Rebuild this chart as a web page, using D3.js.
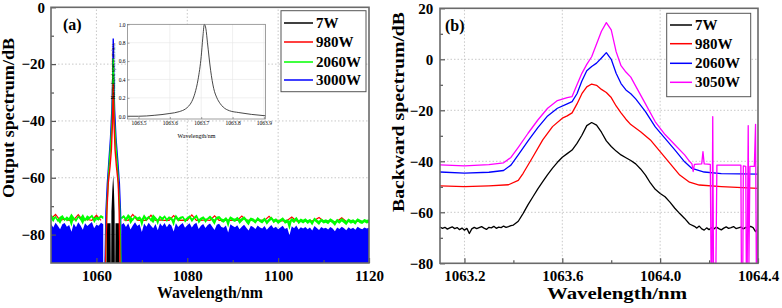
<!DOCTYPE html>
<html><head><meta charset="utf-8">
<script src="https://cdn.jsdelivr.net/npm/d3@7/dist/d3.min.js"></script>
<style>
body{margin:0;background:#fff}
svg{display:block}
text{font-family:"Liberation Serif","Times New Roman",serif;font-weight:bold;fill:#000}
</style>
</head><body>
<svg id="c" width="782" height="308"></svg>
<script>
// ---------------- Panel (a) data ----------------
const seriesA = ["7W", "980W", "2060W", "3000W"];
const colorsA = ["#000000", "#ff0000", "#00ff00", "#0000ff"];
const xTicksA = [1060, 1080, 1100, 1120];
const yTicksA = [-80, -60, -40, -20, 0];

// noise floor, 0.5 nm step: left part 1050..1061.5, right part 1065.5..1120
const floorStartL = 1050, floorStartR = 1065.5, floorStep = 0.5;
const greenTopL = [-73.2,-74.5,-73.8,-75.1,-74.0,-73.5,-74.8,-73.9,-74.6,-73.1,-74.2,-75.0,-73.7,-74.4,-73.3,-74.9,-73.6,-74.1,-73.4,-74.7,-73.9,-74.3,-73.5,-74.0];
const blueTopL = [-76.2,-77.5,-75.8,-76.9,-78.1,-76.4,-75.9,-77.2,-76.6,-79.0,-76.1,-77.4,-75.7,-76.8,-78.3,-76.0,-77.0,-76.3,-75.6,-77.8,-76.5,-76.9,-75.8,-76.4];
const greenTopR = [-74.1,-73.5,-74.6,-73.2,-74.0,-74.8,-73.6,-74.3,-73.9,-75.0,
 -73.4,-74.5,-73.8,-74.9,-73.3,-74.2,-75.1,-73.7,-74.4,-73.6,
 -74.8,-73.9,-74.3,-75.2,-73.5,-74.6,-74.0,-73.8,-74.9,-74.2,
 -73.6,-74.7,-74.1,-73.4,-75.0,-74.3,-73.9,-74.8,-74.4,-73.7,
 -74.5,-75.1,-74.0,-73.8,-74.6,-74.9,-74.2,-75.3,-73.9,-74.4,
 -74.7,-74.1,-75.0,-74.5,-73.9,-74.8,-75.2,-74.3,-74.6,-75.4,
 -74.2,-74.9,-75.1,-74.4,-75.5,-74.7,-74.0,-75.0,-74.6,-75.3,
 -74.8,-74.3,-75.2,-74.9,-75.6,-74.5,-75.0,-74.2,-75.4,-74.7,
 -75.1,-74.6,-75.3,-74.8,-75.7,-74.4,-75.0,-75.5,-74.7,-75.2,
 -74.9,-75.4,-74.6,-75.1,-75.8,-74.8,-75.3,-74.5,-75.0,-75.6,
 -74.7,-75.2,-74.9,-75.5,-74.6,-75.0,-75.4,-74.8,-75.1,-74.9];
const blueTopR = [-76.5,-75.9,-77.3,-76.0,-78.2,-76.8,-75.7,-77.0,-76.4,-79.1,
 -76.1,-77.2,-75.8,-76.9,-77.8,-76.3,-78.5,-76.0,-77.1,-75.9,
 -77.4,-76.2,-76.8,-78.9,-76.0,-77.3,-76.5,-75.9,-77.6,-76.7,
 -76.0,-77.5,-76.4,-75.8,-78.0,-76.9,-76.3,-77.7,-76.6,-76.1,
 -77.2,-78.4,-76.5,-76.2,-77.3,-77.6,-76.8,-79.3,-76.4,-77.0,
 -77.4,-76.7,-78.1,-77.2,-76.5,-77.6,-78.6,-76.9,-77.3,-78.0,
 -76.8,-77.5,-77.9,-77.0,-78.3,-77.4,-76.6,-77.8,-77.2,-78.1,
 -77.5,-76.9,-78.0,-77.6,-80.2,-77.1,-77.8,-76.8,-78.2,-77.4,
 -77.9,-77.3,-78.1,-77.5,-78.6,-77.0,-77.7,-78.4,-77.3,-77.9,
 -77.6,-78.2,-77.3,-77.9,-78.8,-77.5,-78.0,-77.2,-77.8,-78.5,
 -77.4,-78.0,-77.6,-78.3,-77.2,-77.8,-78.1,-77.5,-77.9,-77.6];
// red (980W) floor specks, 1 nm step
const redFloorL = [-74.5,-72.9,-75.0,-74.6,-75.0,-74.8,-73.0,-75.0,-74.7,-75.0,-73.2,-75.0];
const redFloorR = [-74.8,-75.0,-72.9,-75.0,-74.9,-75.0,-73.2,-75.0,-74.8,-75.0,
 -75.0,-73.3,-75.0,-74.9,-75.0,-73.1,-75.0,-75.0,-74.8,-75.0,
 -73.4,-75.0,-75.0,-74.9,-75.0,-75.0,-73.5,-75.0,-75.0,-75.0,
 -75.0,-75.0,-73.6,-75.1,-75.0,-75.2,-75.0,-73.8,-75.2,-75.1,
 -75.2,-75.3,-75.0,-74.0,-75.3,-75.2,-75.4,-75.3,-74.1,-75.4,
 -75.3,-75.4,-75.3,-75.4,-75.3];
const redFloorStartR = 1066;

// central peak profiles [wavelength nm, dB]
const peak7W = [[1062.2,-90],[1062.3,-76],[1063.1,-76],[1063.15,-90],[1063.25,-90],[1063.3,-72],[1063.5,-64],[1063.7,-59],[1063.85,-64],[1064.0,-72],[1064.05,-90],[1064.15,-90],[1064.2,-76],[1065.0,-76],[1065.1,-90]];
const peak980W = [[1062.0,-90],[1062.3,-72],[1062.6,-62],[1063.0,-56],[1063.3,-50],[1063.5,-42],[1063.62,-34],[1063.7,-27],[1063.78,-34],[1063.9,-42],[1064.1,-50],[1064.4,-56],[1064.8,-62],[1065.0,-72],[1065.2,-90]];
const peak2060W = [[1062.0,-90],[1062.3,-70],[1062.7,-58],[1063.1,-49],[1063.45,-40],[1063.6,-28],[1063.7,-18],[1063.8,-28],[1063.95,-40],[1064.3,-49],[1064.7,-58],[1065.1,-70],[1065.4,-90]];
const peak3000W = [[1061.9,-90],[1062.1,-72],[1062.4,-62],[1062.75,-54],[1063.1,-46],[1063.4,-36],[1063.58,-25],[1063.7,-11],[1063.82,-25],[1064.0,-36],[1064.3,-46],[1064.7,-54],[1065.05,-62],[1065.3,-72],[1065.5,-90]];

// inset: normalized spectrum
const insetX = [1063.5, 1063.6, 1063.7, 1063.8, 1063.9];
const insetY = [0.0, 0.2, 0.4, 0.6, 0.8, 1.0];
const insetCurve = [[1063.465,0.0],[1063.50,0.0],[1063.55,0.01],[1063.60,0.03],[1063.63,0.05],[1063.65,0.08],[1063.66,0.11],[1063.67,0.16],[1063.68,0.25],[1063.69,0.4],[1063.70,0.65],[1063.705,0.85],[1063.71,1.0],[1063.715,0.95],[1063.72,0.8],[1063.73,0.5],[1063.74,0.3],[1063.75,0.2],[1063.76,0.14],[1063.77,0.1],[1063.79,0.06],[1063.82,0.04],[1063.86,0.02],[1063.905,0.005]];

// ---------------- Panel (b) data ----------------
const seriesB = ["7W", "980W", "2060W", "3050W"];
const colorsB = ["#000000", "#ff0000", "#0000ff", "#ff00ff"];
const xTicksB = [1063.2, 1063.6, 1064.0, 1064.4];
const yTicksB = [-80, -60, -40, -20, 0, 20];

const b7WflatL = [-65.8,-66.3,-65.9,-66.6,-66.1,-65.7,-66.4,-66.0,-66.8,-66.2,-67.0,-66.3,-68.3,-66.5,-65.9,-66.4,-66.0,-65.6,-66.2,-66.7,-65.9,-66.1,-65.5,-66.3,-65.8,-66.0,-65.4,-65.9,-65.6,-65.2,-65.0];
const b7Wrise = [[1063.42,-63.5],[1063.44,-60.4],[1063.46,-57.0],[1063.48,-53.9],[1063.50,-50.8],[1063.52,-48.0],[1063.54,-45.2],[1063.56,-42.7],[1063.58,-40.4],[1063.60,-38.4],[1063.62,-37.0],[1063.64,-35.6],[1063.66,-33.0],[1063.68,-29.8],[1063.70,-26.0],[1063.72,-24.8],[1063.74,-25.8],[1063.76,-28.6],[1063.78,-32.0],[1063.80,-34.2],[1063.82,-36.0],[1063.84,-37.5],[1063.86,-38.6],[1063.88,-39.7],[1063.90,-41.0],[1063.92,-43.0],[1063.94,-45.4],[1063.96,-48.5],[1063.98,-51.0],[1064.00,-52.6],[1064.02,-53.9],[1064.04,-56.0],[1064.06,-58.4],[1064.08,-60.5],[1064.10,-62.4],[1064.12,-64.6],[1064.14,-65.5]];
const b7WflatR = [-66.2,-65.4,-66.5,-67.0,-66.1,-66.8,-66.0,-66.5,-65.8,-66.4,-66.9,-66.2,-65.7,-66.3,-66.0,-65.6,-66.4,-66.1,-65.8,-66.5,-65.9,-66.2,-65.5,-66.0,-67.6,-66.4];
const b980W = [[1063.10,-49.6],[1063.20,-49.9],[1063.30,-49.6],[1063.38,-49.2],[1063.42,-47.5],[1063.44,-44.7],[1063.48,-38.2],[1063.52,-31.6],[1063.56,-26.4],[1063.60,-23.1],[1063.62,-22.2],[1063.64,-21.0],[1063.66,-17.5],[1063.68,-13.5],[1063.70,-10.8],[1063.72,-9.7],[1063.74,-10.2],[1063.76,-11.8],[1063.78,-13.0],[1063.80,-15.0],[1063.82,-18.3],[1063.84,-21.0],[1063.86,-23.5],[1063.88,-25.6],[1063.92,-28.4],[1063.96,-31.6],[1064.00,-36.2],[1064.04,-40.8],[1064.08,-45.4],[1064.12,-48.2],[1064.16,-49.3],[1064.25,-49.9],[1064.40,-50.6]];
const b2060W = [[1063.10,-44.2],[1063.20,-44.6],[1063.30,-44.3],[1063.36,-43.6],[1063.39,-41.5],[1063.42,-37.5],[1063.46,-32.0],[1063.50,-26.8],[1063.54,-22.2],[1063.58,-19.2],[1063.62,-17.5],[1063.64,-16.6],[1063.66,-13.5],[1063.68,-8.5],[1063.70,-4.5],[1063.72,-2.8],[1063.74,-1.5],[1063.76,0.5],[1063.78,2.6],[1063.80,0.0],[1063.82,-5.5],[1063.84,-9.5],[1063.86,-12.0],[1063.88,-13.5],[1063.90,-15.5],[1063.94,-20.5],[1063.98,-26.5],[1064.02,-31.0],[1064.06,-35.5],[1064.10,-40.2],[1064.13,-42.8],[1064.18,-44.2],[1064.25,-44.8],[1064.40,-45.0]];
const b3050W = [[1063.10,-41.4],[1063.20,-41.8],[1063.30,-41.3],[1063.36,-40.6],[1063.39,-38.5],[1063.42,-34.5],[1063.46,-29.0],[1063.50,-23.8],[1063.54,-19.2],[1063.58,-16.2],[1063.62,-15.0],[1063.64,-14.6],[1063.66,-10.0],[1063.68,-5.5],[1063.70,-2.0],[1063.72,1.0],[1063.74,6.0],[1063.76,11.0],[1063.78,14.4],[1063.80,11.5],[1063.82,3.0],[1063.84,-2.5],[1063.86,-5.0],[1063.88,-7.0],[1063.90,-10.5],[1063.94,-17.5],[1063.98,-24.5],[1064.02,-29.5],[1064.06,-33.5],[1064.10,-37.5],[1064.12,-40.0],
 [1064.13,-41.0],[1064.135,-44.0],[1064.14,-41.2],[1064.17,-41.0],[1064.175,-36.2],[1064.18,-41.0],[1064.205,-41.2],[1064.208,-80],[1064.212,-80],[1064.215,-22.5],[1064.218,-80],[1064.228,-80],[1064.232,-41.5],[1064.33,-41.5],[1064.332,-80],[1064.338,-80],[1064.34,-41.8],[1064.35,-42],[1064.352,-80],[1064.356,-80],[1064.36,-26],[1064.363,-80],[1064.367,-42],[1064.385,-42],[1064.39,-25.5],[1064.393,-80],[1064.397,-80],[1064.4,-42]];

// ---------------- drawing ----------------
const svg = d3.select("#c");
const TF = 15; // tick font px

function drawGrid(g, x, y, xMaj, yMaj) {
  const [x0, x1] = x.range(), [y0, y1] = y.range();
  g.append("g").selectAll("line").data(xMaj.filter(v => v > x.domain()[0] && v < x.domain()[1])).join("line")
    .attr("x1", d => x(d)).attr("x2", d => x(d)).attr("y1", y0).attr("y2", y1)
    .attr("stroke", "#c8c8c8").attr("stroke-width", 1).attr("stroke-dasharray", "1.5,2");
  g.append("g").selectAll("line").data(yMaj.filter(v => v > y.domain()[0] && v < y.domain()[1])).join("line")
    .attr("y1", d => y(d)).attr("y2", d => y(d)).attr("x1", x0).attr("x2", x1)
    .attr("stroke", "#c8c8c8").attr("stroke-width", 1).attr("stroke-dasharray", "1.5,2");
}

function drawAxes(g, x, y, xMaj, xMin, yMaj, yMin, fmtX, fmtY, padY) {
  const [x0, x1] = x.range(), [y0, y1] = y.range();
  const ax = g.append("g").attr("transform", `translate(0,${y0})`)
    .call(d3.axisBottom(x).tickValues(xMaj).tickSize(-5).tickPadding(7).tickFormat(fmtX));
  g.append("g").attr("transform", `translate(0,${y0})`)
    .call(d3.axisBottom(x).tickValues(xMin).tickSize(-3).tickFormat(""));
  const ay = g.append("g").attr("transform", `translate(${x0},0)`)
    .call(d3.axisLeft(y).tickValues(yMaj).tickSize(-5).tickPadding(padY).tickFormat(fmtY));
  g.append("g").attr("transform", `translate(${x0},0)`)
    .call(d3.axisLeft(y).tickValues(yMin).tickSize(-3).tickFormat(""));
  g.selectAll(".domain").remove();
  g.selectAll(".tick line").attr("stroke", "#555").attr("stroke-width", 1.2);
  ax.selectAll("text").style("font-size", TF + "px").attr("font-family", null);
  ay.selectAll("text").style("font-size", TF + "px").attr("font-family", null);
  g.append("rect").attr("x", x0).attr("y", y1).attr("width", x1 - x0).attr("height", y0 - y1)
    .attr("fill", "none").attr("stroke", "#6a6a6a").attr("stroke-width", 1.6);
}

// ===== Panel (a) =====
const xA = d3.scaleLinear().domain([1050, 1120]).range([51, 369]);
const yA = d3.scaleLinear().domain([-90, 0]).range([263, 7.3]);
const gA = svg.append("g");
svg.append("defs").append("clipPath").attr("id", "clipA").append("rect")
  .attr("x", 51).attr("y", 7.3).attr("width", 318).attr("height", 255.7);
drawGrid(gA, xA, yA, xTicksA, yTicksA);
const dA = gA.append("g").attr("clip-path", "url(#clipA)");

const wl = (start, step) => (v, i) => [start + i * step, v];
const gtl = greenTopL.map(wl(floorStartL, floorStep)), btl = blueTopL.map(wl(floorStartL, floorStep));
const gtr = greenTopR.map(wl(floorStartR, floorStep)), btr = blueTopR.map(wl(floorStartR, floorStep));
const rfl = redFloorL.map(wl(floorStartL, 1)), rfr = redFloorR.map(wl(redFloorStartR, 1));

const areaBottom = d3.area().x(d => xA(d[0])).y0(yA(-90)).y1(d => yA(d[1]));
const lineA = d3.line().x(d => xA(d[0])).y(d => yA(d[1]));
// 7W central fill
dA.append("path").datum(peak7W).attr("d", areaBottom).attr("fill", colorsA[0]);
// 3000W floor (blue fill)
[btl, btr].forEach(seg => dA.append("path").datum(seg).attr("d", areaBottom).attr("fill", colorsA[3]));
// 980W specks
[rfl, rfr].forEach(seg => dA.append("path").datum(seg).attr("d", lineA).attr("fill", "none").attr("stroke", colorsA[1]).attr("stroke-width", 1.2));
// 2060W noise band
[[gtl, btl], [gtr, btr]].forEach(([top, bot]) => {
  const band = top.map((d, i) => [d[0], d[1], bot[i][1]]);
  dA.append("path").datum(band)
    .attr("d", d3.area().x(d => xA(d[0])).y0(d => yA(d[2] + 1.8)).y1(d => yA(d[1])))
    .attr("fill", colorsA[2]);
  dA.append("path").datum(top).attr("d", lineA).attr("fill", "none").attr("stroke", colorsA[2]).attr("stroke-width", 1.6);
});
// peaks
[[peak3000W, 3], [peak2060W, 2], [peak980W, 1]].forEach(([data, ci]) => {
  dA.append("path").datum(data).attr("d", lineA).attr("fill", "none").attr("stroke", colorsA[ci]).attr("stroke-width", 1.4);
});
drawAxes(gA, xA, yA, xTicksA, [1070, 1090, 1110], yTicksA, [-70, -50, -30, -10], d3.format("d"), d3.format("d"), 6);

// inset
const xI = d3.scaleLinear().domain([1063.465, 1063.905]).range([127.5, 265.5]);
const yI = d3.scaleLinear().domain([-0.03, 1.0]).range([119, 24.3]);
const gI = gA.append("g");
gI.append("rect").attr("x", 127.5).attr("y", 24.3).attr("width", 138).attr("height", 94.7).attr("fill", "#fff");
gI.append("g").selectAll("line").data(insetX.slice(1)).join("line")
  .attr("x1", d => xI(d)).attr("x2", d => xI(d)).attr("y1", 119).attr("y2", 24.3).attr("stroke", "#e6e6e6").attr("stroke-width", 0.6);
gI.append("g").selectAll("line").data(insetY.slice(1, -1)).join("line")
  .attr("y1", d => yI(d)).attr("y2", d => yI(d)).attr("x1", 127.5).attr("x2", 265.5).attr("stroke", "#e6e6e6").attr("stroke-width", 0.6);
gI.append("path").datum(insetCurve).attr("d", d3.line().curve(d3.curveMonotoneX).x(d => xI(d[0])).y(d => yI(d[1])))
  .attr("fill", "none").attr("stroke", "#333").attr("stroke-width", 0.9);
gI.append("g").attr("transform", "translate(0,119)")
  .call(d3.axisBottom(xI).tickValues(insetX).tickSize(-2).tickPadding(2).tickFormat(d3.format(".1f")));
gI.append("g").attr("transform", "translate(127.5,0)")
  .call(d3.axisLeft(yI).tickValues(insetY).tickSize(-2).tickPadding(2).tickFormat(d3.format(".1f")));
gI.selectAll(".domain").remove();
gI.selectAll(".tick line").attr("stroke", "#666").attr("stroke-width", 0.6);
gI.selectAll(".tick text").style("font-size", "5.5px").style("font-weight", "normal").attr("font-family", null).attr("fill", "#333");
gI.append("rect").attr("x", 127.5).attr("y", 24.3).attr("width", 138).attr("height", 94.7)
  .attr("fill", "none").attr("stroke", "#777").attr("stroke-width", 0.7);
gI.append("text").attr("x", 196.5).attr("y", 138).attr("text-anchor", "middle")
  .style("font-size", "6px").style("font-weight", "normal").attr("fill", "#333").text("Wavelength/nm");
gI.append("text").attr("transform", "translate(115,71) rotate(-90)").attr("text-anchor", "middle")
  .style("font-size", "5.5px").style("font-weight", "normal").attr("fill", "#333").text("Normalized spectrum/a.u.");

// labels (a)
gA.append("text").attr("x", 63).attr("y", 30).style("font-size", "16px").text("(a)");
gA.append("text").attr("x", 210).attr("y", 298).attr("text-anchor", "middle").style("font-size", "17px")
  .attr("textLength", 106).attr("lengthAdjust", "spacingAndGlyphs").text("Wavelength/nm");
gA.append("text").attr("transform", "translate(14,118) rotate(-90)").attr("text-anchor", "middle").style("font-size", "16px")
  .attr("textLength", 160).attr("lengthAdjust", "spacingAndGlyphs").text("Output spectrum/dB");

// legend (a)
const legA = gA.append("g");
legA.append("rect").attr("x", 281).attr("y", 10.7).attr("width", 85).attr("height", 81)
  .attr("fill", "#fff").attr("stroke", "#555").attr("stroke-width", 1);
const legAy = [23, 42, 62, 80];
seriesA.forEach((s, i) => {
  legA.append("line").attr("x1", 284).attr("x2", 313).attr("y1", legAy[i]).attr("y2", legAy[i])
    .attr("stroke", colorsA[i]).attr("stroke-width", 1.5);
  legA.append("text").attr("x", 316).attr("y", legAy[i] + 5).style("font-size", "15px").text(s);
});

// ===== Panel (b) =====
const xB = d3.scaleLinear().domain([1063.1, 1064.4]).range([440, 758]);
const yB = d3.scaleLinear().domain([-80, 20]).range([263.3, 8.3]);
const gB = svg.append("g");
svg.select("defs").append("clipPath").attr("id", "clipB").append("rect")
  .attr("x", 440).attr("y", 8.3).attr("width", 318).attr("height", 255);
drawGrid(gB, xB, yB, xTicksB, yTicksB);
const dB = gB.append("g").attr("clip-path", "url(#clipB)");
const lineB = d3.line().x(d => xB(d[0])).y(d => yB(d[1]));
const b7W = b7WflatL.map(wl(1063.10, 0.01)).concat(b7Wrise, b7WflatR.map(wl(1064.15, 0.01)));
const dataB = [b7W, b980W, b2060W, b3050W];
dataB.forEach((data, i) => {
  dB.append("path").datum(data).attr("d", lineB).attr("fill", "none")
    .attr("stroke", colorsB[i]).attr("stroke-width", 1.3).attr("stroke-linejoin", "round");
});
drawAxes(gB, xB, yB, xTicksB, [1063.4, 1063.8, 1064.2], yTicksB, [-70, -50, -30, -10, 10], d3.format(".1f"), d3.format("d"), 6.7);

gB.append("text").attr("x", 445).attr("y", 31).style("font-size", "16px").text("(b)");
gB.append("text").attr("x", 617).attr("y", 299).attr("text-anchor", "middle").style("font-size", "17px")
  .attr("textLength", 140).attr("lengthAdjust", "spacingAndGlyphs").text("Wavelength/nm");
gB.append("text").attr("transform", "translate(404,112) rotate(-90)").attr("text-anchor", "middle").style("font-size", "16px")
  .attr("textLength", 200).attr("lengthAdjust", "spacingAndGlyphs").text("Backward spectrum/dB");

const legB = gB.append("g");
legB.append("rect").attr("x", 666.7).attr("y", 13.3).attr("width", 84).attr("height", 83.4)
  .attr("fill", "#fff").attr("stroke", "#555").attr("stroke-width", 1);
const legBy = [25, 43.7, 63.3, 82.3];
seriesB.forEach((s, i) => {
  legB.append("line").attr("x1", 670).attr("x2", 692).attr("y1", legBy[i]).attr("y2", legBy[i])
    .attr("stroke", colorsB[i]).attr("stroke-width", 1.5);
  legB.append("text").attr("x", 695).attr("y", legBy[i] + 5).style("font-size", "15px").text(s);
});
</script>
</body></html>
